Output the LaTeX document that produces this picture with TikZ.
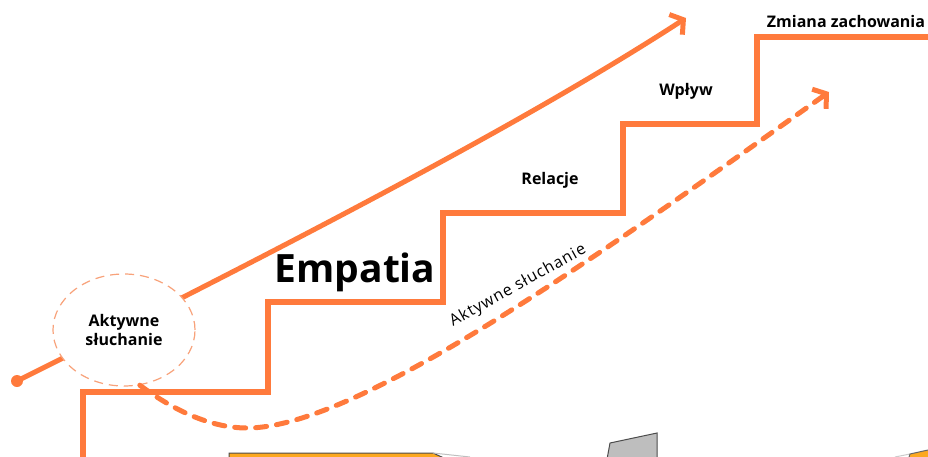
\documentclass[tikz,border=0pt]{standalone}
\usepackage{fontspec}
\setmainfont{Open Sans}
\usetikzlibrary{arrows.meta,shapes.geometric}
\definecolor{stairorange}{RGB}{255,122,60}
\definecolor{ringorange}{RGB}{248,162,122}
\definecolor{boxgold}{RGB}{252,168,32}
\definecolor{boxgray}{RGB}{190,190,190}
\begin{document}
\begin{tikzpicture}[x=1pt,y=-1pt,
    stair/.style = {draw=stairorange, line width=6pt, line join=miter},
    growth/.style = {draw=stairorange, line width=5pt, line cap=round, -{Straight Barb[length=9pt,width=24pt,line width=5pt]}},
    listen/.style = {growth, dash pattern=on 11pt off 10pt},
    ring/.style = {ellipse, draw=ringorange, dashed, dash pattern=on 9pt off 6pt, line width=1.2pt, fill=white,
                   minimum width=142pt, minimum height=112pt, inner sep=0pt, align=center, font=\bfseries\fontsize{16}{20}\selectfont},
    steplabel/.style = {font=\bfseries\fontsize{16}{19}\selectfont, anchor=base}]
  \useasboundingbox (0,0) rectangle (928,457);
  \clip (0,0) rectangle (928,457);
  % partly hidden shapes at the bottom edge
  \filldraw[fill=boxgold, draw=black!70, line width=1pt] (229,470) -- (229,453) -- (433,453) -- (470,470) -- cycle;
  \draw[black!25, line width=1pt] (433,453) -- (470,457);
  \filldraw[fill=boxgray, draw=black!70, line width=1pt] (605,470) -- (610,443) -- (657,433) -- (657,470);
  \draw[black!20, line width=1pt] (895,457) -- (910,454);
  \filldraw[fill=boxgold, draw=black!60, line width=1pt] (905,470) -- (910,454) -- (928,450) -- (940,450) -- (940,470) -- cycle;
  % stairs
  \draw[stair] (83,470) |- (268,392) |- (443,302) |- (623,213) |- (757,124) |- (932,37);
  % upper arrow
  \coordinate (start) at (17,381);
  \coordinate (tip) at (686,18);
  \fill[stairorange] (start) circle (6pt);
  \draw[growth] (start) .. controls (317,231) and (536,115.5) .. (tip);
  \node[ring] (ell) at (124,330) {Aktywne\\[-1pt]słuchanie};
  % lower arrow
  \coordinate (low) at (247,428);
  \coordinate (tip2) at (829,92);
  \draw[listen] (ell.-74) .. controls (165,404) and (205,428) .. (low)
                .. controls (360,428) and (609,248) .. (tip2);
  \node[rotate=29, font=\fontsize{16}{18}\selectfont\addfontfeature{LetterSpace=6}] (al) at (518,286) {Aktywne słuchanie};
  % labels
  \node[font=\bfseries\fontsize{39}{44}\selectfont, anchor=base] (emp) at (355,282) {Empatia};
  \node[steplabel] (rel) at (550,184) {Relacje};
  \node[steplabel] (wpl) at (686,96) {Wpływ};
  \node[steplabel] (zmi) at (846,28) {Zmiana zachowania};
\end{tikzpicture}
\end{document}
